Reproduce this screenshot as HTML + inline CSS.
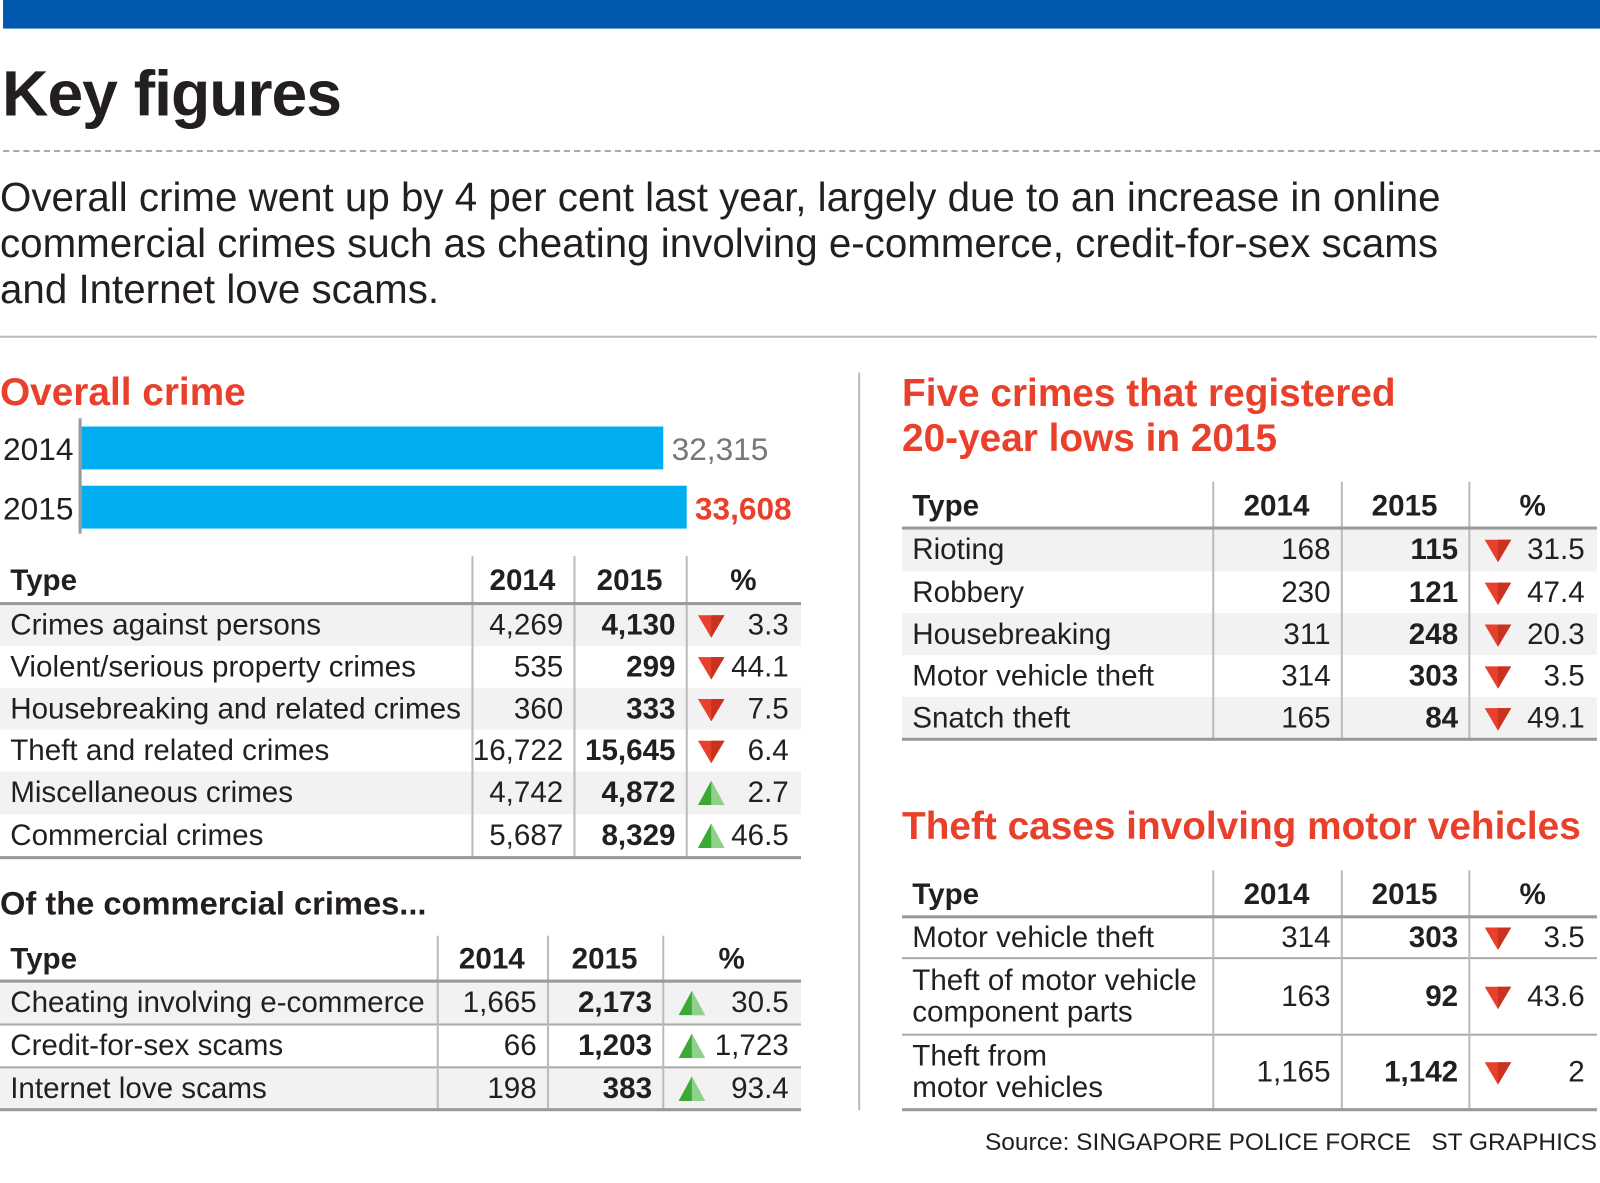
<!DOCTYPE html>
<html><head><meta charset="utf-8">
<style>
body{margin:0;width:1600px;height:1159px;background:#fff;position:relative;overflow:hidden;font-family:"Liberation Sans Narrow","Liberation Sans",sans-serif;color:#231f20}
#wrap{position:absolute;left:0;top:0;width:1600px;height:1159px;transform:scale(1.0204);transform-origin:0 0}
.a{position:absolute;white-space:nowrap}
.red{color:#e8402a;font-weight:bold}
</style></head><body>
<div id="wrap">
<div class="a" style="left:3px;top:0;width:1565px;height:28px;background:#0059ac"></div>
<div class="a" style="left:2px;top:56px;font-size:63px;font-weight:bold;letter-spacing:-1px">Key figures</div>
<div class="a" style="left:3px;top:147px;width:1565px;border-top:2px dashed #aaa"></div>
<div class="a" style="left:0;top:172px;font-size:39.5px;line-height:45px;white-space:normal;width:1560px">Overall crime went up by 4 per cent last year, largely due to an increase in online<br>commercial crimes such as cheating involving e-commerce, credit-for-sex scams<br>and Internet love scams.</div>
<div class="a" style="left:0;top:329px;width:1565px;border-top:2px solid #bbb"></div>
<div class="a" style="left:841px;top:365px;width:2px;height:723px;background:#bbb"></div>

<div class="a red" style="left:0;top:364px;font-size:38px">Overall crime</div>
<div class="a red" style="left:884px;top:364px;font-size:38px;line-height:44px">Five crimes that registered<br>20-year lows in 2015</div>
<div class="a" style="left:0;top:867px;font-size:32px;font-weight:bold">Of the commercial crimes...</div>
<div class="a red" style="left:884px;top:789px;font-size:38px">Theft cases involving motor vehicles</div>
<div class="a" style="right:35px;top:1106px;font-size:24px">Source: SINGAPORE POLICE FORCE &nbsp; ST GRAPHICS</div>

<div id="bars"></div>
<div id="tables"></div>
</div>

<script>
// bar chart data
const barYears = ["2014","2015"];
const barValues = [32315, 33608];
const barLabels = ["32,315","33,608"];

// table 1
const t1Types = ["Crimes against persons","Violent/serious property crimes","Housebreaking and related crimes","Theft and related crimes","Miscellaneous crimes","Commercial crimes"];
const t1Y2014 = ["4,269","535","360","16,722","4,742","5,687"];
const t1Y2015 = ["4,130","299","333","15,645","4,872","8,329"];
const t1Pct = ["3.3","44.1","7.5","6.4","2.7","46.5"];
const t1Dir = ["down","down","down","down","up","up"];
// table 2
const t2Types = ["Cheating involving e-commerce","Credit-for-sex scams","Internet love scams"];
const t2Y2014 = ["1,665","66","198"];
const t2Y2015 = ["2,173","1,203","383"];
const t2Pct = ["30.5","1,723","93.4"];
const t2Dir = ["up","up","up"];
// table 3
const t3Types = ["Rioting","Robbery","Housebreaking","Motor vehicle theft","Snatch theft"];
const t3Y2014 = ["168","230","311","314","165"];
const t3Y2015 = ["115","121","248","303","84"];
const t3Pct = ["31.5","47.4","20.3","3.5","49.1"];
const t3Dir = ["down","down","down","down","down"];
// table 4
const t4Types = ["Motor vehicle theft","Theft of motor vehicle<br>component parts","Theft from<br>motor vehicles"];
const t4Y2014 = ["314","163","1,165"];
const t4Y2015 = ["303","92","1,142"];
const t4Pct = ["3.5","43.6","2"];
const t4Dir = ["down","down","down"];

function mk(parent, css, html){
  const d=document.createElement('div');
  d.className='a';
  d.style.cssText=css;
  if(html!==undefined) d.innerHTML=html;
  parent.appendChild(d);
  return d;
}

// bars
const bars=document.getElementById('bars');
const x0=80, maxV=33608, maxW=593;
const xScale=v=>v/maxV*maxW;
const axis=mk(bars,`left:77px;top:410px;width:3px;height:113px;background:#999`);


barYears.forEach((yr,i)=>{
  const top=418+i*58, h=42;
  const lab=mk(bars,`left:3px;top:${top+5}px;font-size:31px`,yr);
  
  
  const w=xScale(barValues[i]);
  const b=mk(bars,`left:${x0}px;top:${top}px;width:${w}px;height:${h}px;background:#00aeef`);
  
  
  const v=mk(bars,`left:${x0+w+8}px;top:${top+5}px;font-size:31px;${i==1?'color:#e8402a;font-weight:bold':'color:#777'}`,barLabels[i]);
  
  
});

function arrow(dir){
  if(dir==='down') return '<svg width="26" height="24" style="vertical-align:middle"><polygon points="0,2 26,2 13,24" fill="#e8402a"/><polygon points="13,2 26,2 13,24" fill="#c8321e"/></svg>';
  return '<svg width="26" height="24" style="vertical-align:middle"><polygon points="13,0 26,24 0,24" fill="#3aaa35"/><polygon points="13,0 26,24 13,24" fill="#8fd18a"/></svg>';
}

const tables=document.getElementById('tables');
function table(name, cols, headTop, headBot, rowTops, types, a, b, pct, dir, opts){
  const L=cols[0], R=cols[4];
  const g=document.createElement('div');
  
  
  tables.appendChild(g);
  const last=rowTops[rowTops.length-1];
  rowTops.slice(0,-1).forEach((t,i)=>{
    if(opts.shade && i%2===0){
      const s=mk(g,`left:${L}px;top:${t}px;width:${R-L}px;height:${rowTops[i+1]-t}px;background:#f1f2f1`);
      
      
    }
    if(opts.sep && i>0){
      const s=mk(g,`left:${L}px;top:${t-1}px;width:${R-L}px;height:2px;background:#aaa`);
      
      
    }
  });
  [1,2,3].forEach(k=>{
    const v=mk(g,`left:${cols[k]}px;top:${headTop}px;width:2px;height:${last-headTop}px;background:#bbb`);
    
    
  });
  const hl=mk(g,`left:${L}px;top:${headBot-1}px;width:${R-L}px;height:3px;background:#999`);
  
  
  const bl=mk(g,`left:${L}px;top:${last-1}px;width:${R-L}px;height:3px;background:#999`);
  
  
  const hy=(headTop+headBot)/2-15;
  const h1=mk(g,`left:${L+10}px;top:${hy}px;font-size:29px;font-weight:bold`,'Type');
  
  
  const h2=mk(g,`left:${cols[1]}px;width:${cols[2]-cols[1]}px;top:${hy}px;font-size:29px;font-weight:bold;text-align:center`,'2014');
  
  
  const h3=mk(g,`left:${cols[2]}px;width:${cols[3]-cols[2]}px;top:${hy}px;font-size:29px;font-weight:bold;text-align:center`,'2015');
  
  
  const h4=mk(g,`left:${cols[3]}px;width:${cols[4]-cols[3]}px;top:${hy}px;font-size:29px;font-weight:bold;text-align:center`,'%');
  
  
  types.forEach((t,i)=>{
    const top=rowTops[i], bot=rowTops[i+1], mid=(top+bot)/2;
    const multi=t.indexOf('<br>')>=0;
    const c1=mk(g,`left:${L+10}px;top:${multi?mid-31:mid-15}px;font-size:29px;line-height:${multi?31:30}px`,t);
    
    
    const c2=mk(g,`left:${cols[1]}px;width:${cols[2]-cols[1]-10}px;top:${mid-15}px;font-size:29px;line-height:30px;text-align:right`,a[i]);
    
    
    const c3=mk(g,`left:${cols[2]}px;width:${cols[3]-cols[2]-10}px;top:${mid-15}px;font-size:29px;line-height:30px;text-align:right;font-weight:bold`,b[i]);
    
    
    const ar=mk(g,`left:${cols[3]+opts.arrowOff}px;top:${mid-12}px;height:24px`,arrow(dir[i]));
    
    
    const c4=mk(g,`left:${cols[3]}px;width:${cols[4]-cols[3]-12}px;top:${mid-15}px;font-size:29px;line-height:30px;text-align:right`,pct[i]);
    
    
  });
}
table('overall-crime-table',[0,462,562,672,785],545,591,[592,633,674,715,756,798,840],t1Types,t1Y2014,t1Y2015,t1Pct,t1Dir,{shade:true,sep:false,arrowOff:12});
table('commercial-crimes-table',[0,428,536,649,785],917,961,[962,1004,1046,1087],t2Types,t2Y2014,t2Y2015,t2Pct,t2Dir,{shade:true,sep:true,arrowOff:16});
table('twenty-year-lows-table',[884,1188,1314,1439,1565],472,517,[518,560,601,642,683,724],t3Types,t3Y2014,t3Y2015,t3Pct,t3Dir,{shade:true,sep:false,arrowOff:16});
table('motor-vehicle-table',[884,1188,1314,1439,1565],853,898,[898,939,1014,1087],t4Types,t4Y2014,t4Y2015,t4Pct,t4Dir,{shade:false,sep:true,arrowOff:16});
</script>
</body></html>
